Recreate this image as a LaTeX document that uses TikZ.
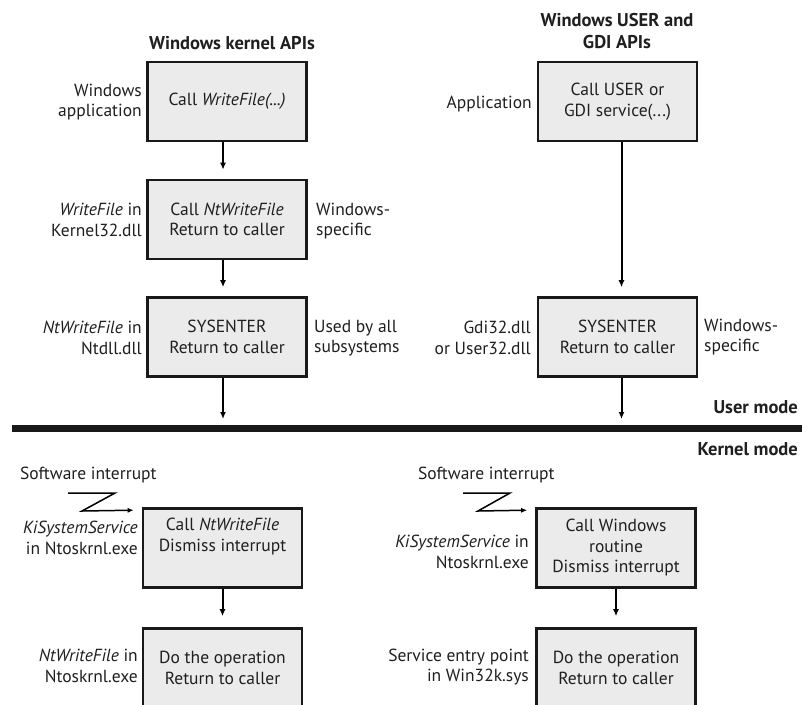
\documentclass[tikz,border=0pt]{standalone}
\usepackage{fontspec}
\setmainfont{PT Sans}
\usetikzlibrary{arrows.meta}

\tikzset{
  box/.style={draw=black!90, line width=2.6pt, fill=black!8, minimum width=159pt, minimum height=79pt, align=center, inner sep=0pt},
  lab/.style={align=right, anchor=east, inner sep=0pt},
  labr/.style={align=left, anchor=west, inner sep=0pt},
  head/.style={font=\fontsize{18.5}{22}\selectfont\bfseries, align=center, inner sep=0pt},
  flow/.style={line width=2pt, -{Latex[length=7pt,width=6pt]}, shorten >=9pt},
  zig/.style={line width=1.5pt, -{Latex[length=6pt,width=5pt]}}
}

\begin{document}
\begin{tikzpicture}[x=1pt,y=-1pt, font=\fontsize{17.5}{20.5}\selectfont, text=black!88]
\useasboundingbox (0,0) rectangle (802,704);
\clip (0,0) rectangle (802,704);

% user mode, kernel APIs
\node[head] (kt) at (232,43) {Windows kernel APIs};
\node[box] (k1) at (227,101.5) {Call \textit{WriteFile(...)}};
\node[box] (k2) at (227,219.5) {Call \textit{NtWriteFile}\\Return to caller};
\node[box] (k3) at (227,337) {SYSENTER\\Return to caller};
\node[lab] (k1l) at (142,102) {Windows\\application};
\node[lab] (k2l) at (142,220) {\textit{WriteFile} in\\Kernel32.dll};
\node[labr] (k2r) at (316,221) {Windows-\\specific};
\node[lab] (k3l) at (142,338) {\textit{NtWriteFile} in\\Ntdll.dll};
\node[labr] (k3r) at (314,338) {Used by all\\subsystems};

% user mode, USER and GDI
\node[head] (ut) at (617,31) {Windows USER and\\GDI APIs};
\node[box] (u1) at (617.5,101.5) {Call USER or\\GDI service(...)};
\node[box] (u2) at (617.5,337) {SYSENTER\\Return to caller};
\node[lab] (u1l) at (532,104) {Application};
\node[lab] (u2l) at (531,338) {Gdi32.dll\\or User32.dll};
\node[labr] (u2r) at (704,337) {Windows-\\specific};

% mode line
\draw[line width=7pt, black!90] (12,428) -- (802,428);
\node[head, anchor=east] (um) at (798,407) {User mode};
\node[head, anchor=east] (km) at (798,449) {Kernel mode};
\coordinate (kend) at (223,428);
\coordinate (uend) at (621.5,428);

% kernel mode
\node[anchor=west, inner sep=0pt] (swl) at (20,475) {Software interrupt};
\node[anchor=west, inner sep=0pt] (swr) at (418,475) {Software interrupt};
\node[box] (ks) at (222.5,548) {Call \textit{NtWriteFile}\\Dismiss interrupt\\\strut};
\node[box] (kd) at (222.5,668) {Do the operation\\Return to caller};
\node[box] (ws) at (616,548) {Call Windows\\routine\\Dismiss interrupt};
\node[box] (wd) at (616,668) {Do the operation\\Return to caller};
\node[lab] (ksl) at (138,538) {\textit{KiSystemService}\\in Ntoskrnl.exe};
\node[lab] (kdl) at (138,666) {\textit{NtWriteFile} in\\Ntoskrnl.exe};
\node[lab] (wsl) at (529,552) {\textit{KiSystemService} in\\Ntoskrnl.exe};
\node[lab] (wdl) at (529,667) {Service entry point\\in Win32k.sys};
\coordinate (zl) at (68,493);
\coordinate (zr) at (463,493);

% arrows
\draw[flow] ([xshift=-4pt]k1.south) -- ([xshift=-4pt]k2.north);
\draw[flow] ([xshift=-4pt]k2.south) -- ([xshift=-4pt]k3.north);
\draw[flow] ([xshift=-4pt]k3.south) -- (kend);
\draw[flow] ([xshift=4pt]u1.south) -- ([xshift=4pt]u2.north);
\draw[flow] ([xshift=4pt]u2.south) -- (uend);
\draw[flow, shorten >=11pt] (ks.south) -- (kd.north);
\draw[flow, shorten >=11pt] (ws.south) -- (wd.north);
\draw[zig] (zl) -- ++(47,0) -- ++(-33,18) -- ([shift={(-8,3)}]ks.north west);
\draw[zig] (zr) -- ++(47,0) -- ++(-32,18) -- ([shift={(-8,3)}]ws.north west);
\end{tikzpicture}
\end{document}
